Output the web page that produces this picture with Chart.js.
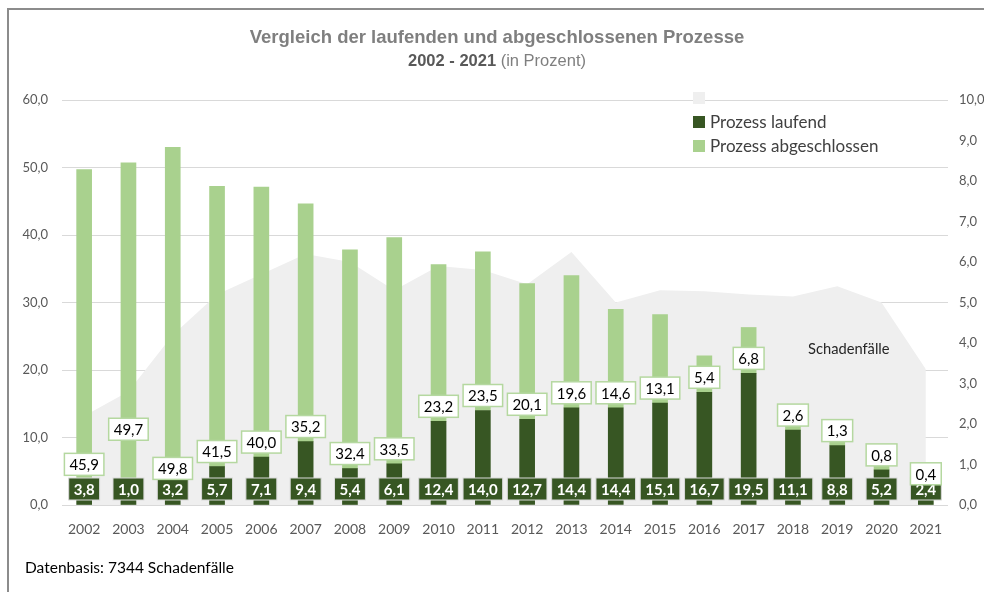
<!DOCTYPE html>
<html>
<head>
<meta charset="utf-8">
<script src="https://cdn.jsdelivr.net/npm/chart.js@4/dist/chart.umd.min.js"></script>
<style>
  html, body { margin: 0; padding: 0; background: #fff; }
  #wrap { position: relative; width: 984px; height: 592px; overflow: hidden; font-family: Lato, sans-serif; }
  #frame { position: absolute; left: 7px; top: 8px; width: 990px; height: 600px; border-top: 2px solid #8c8c8c; border-left: 2px solid #8c8c8c; }
  canvas { position: absolute; left: 0; top: 0; }
  .t { position: absolute; white-space: nowrap; }
  #title { left: 0; width: 994px; top: 26px; text-align: center; font: bold 18.5px "Liberation Sans", sans-serif; color: #7f7f7f; }
  #sub { left: 0; width: 994px; top: 51px; text-align: center; font: 16.5px "Liberation Sans", sans-serif; color: #7f7f7f; }
  #sub b { color: #595959; }
  .sw { position: absolute; width: 12px; height: 12px; }
  .lg { position: absolute; font-size: 17px; color: #404040; }
  #note { left: 25px; top: 558px; font-size: 15.5px; color: #000; }
  #sch { left: 808px; top: 339px; font-size: 14.7px; color: #262626; }
</style>
</head>
<body>
<div id="wrap">
  <canvas id="c" width="984" height="592"></canvas>
  <div id="frame"></div>
  <div class="t" id="title">Vergleich der laufenden und abgeschlossenen Prozesse</div>
  <div class="t" id="sub"><b>2002 - 2021</b> (in Prozent)</div>
  <div class="sw" style="left:693px;top:92px;background:#efefef"></div>
  <div class="sw" style="left:693px;top:116px;background:#375623"></div>
  <div class="t lg" style="left:710px;top:111px">Prozess laufend</div>
  <div class="sw" style="left:693px;top:140px;background:#a9d18e"></div>
  <div class="t lg" style="left:710px;top:135px">Prozess abgeschlossen</div>
  <div class="t" id="sch">Schadenfälle</div>
  <div class="t" id="note">Datenbasis: 7344 Schadenfälle</div>
</div>
<script>
const years = ['2002','2003','2004','2005','2006','2007','2008','2009','2010','2011',
               '2012','2013','2014','2015','2016','2017','2018','2019','2020','2021'];
const laufend = [3.8, 1.0, 3.2, 5.7, 7.1, 9.4, 5.4, 6.1, 12.4, 14.0,
                 12.7, 14.4, 14.4, 15.1, 16.7, 19.5, 11.1, 8.8, 5.2, 2.4];
const abgeschlossen = [45.9, 49.7, 49.8, 41.5, 40.0, 35.2, 32.4, 33.5, 23.2, 23.5,
                       20.1, 19.6, 14.6, 13.1, 5.4, 6.8, 2.6, 1.3, 0.8, 0.4];
// Schadenfälle, right axis (0-10)
const schadenfaelle = [2.2, 2.8, 4.2, 5.2, 5.7, 6.2, 6.0, 5.3, 5.9, 5.8,
                       5.45, 6.25, 5.0, 5.3, 5.28, 5.2, 5.15, 5.4, 5.0, 3.35];

const fmt = v => v.toFixed(1).replace('.', ',');
// label of 2003 was moved up by hand in the original
const liftedLabels = { '2003': 54 };

const drawBox = (ctx, t, x, cy, fill, stroke, lw, color) => {
  const w = ctx.measureText(t).width + 10;
  ctx.fillStyle = fill;
  ctx.strokeStyle = stroke;
  ctx.lineWidth = lw;
  ctx.fillRect(x - w / 2, cy - 11, w, 22);
  ctx.strokeRect(x - w / 2, cy - 11, w, 22);
  ctx.fillStyle = color;
  ctx.fillText(t, x, cy + 1);
};

const labelPlugin = {
  id: 'boxLabels',
  afterDatasetsDraw(chart) {
    const ctx = chart.ctx;
    const dark = chart.getDatasetMeta(1).data;
    const base = chart.scales.y.getPixelForValue(0);
    ctx.save();
    ctx.textAlign = 'center';
    ctx.textBaseline = 'middle';
    // dark labels: inside base
    ctx.font = 'bold 15px Lato';
    years.forEach((yr, i) => drawBox(ctx, fmt(laufend[i]), dark[i].x, base - 16, '#375623', '#d9d9d9', 1, '#fff'));
    // light labels: just above the dark segment
    ctx.font = '15px Lato';
    years.forEach((yr, i) => drawBox(ctx, fmt(abgeschlossen[i]), dark[i].x,
      dark[i].y - 15 - (liftedLabels[yr] || 0), '#fff', '#b5d8a0', 1.5, '#000'));
    ctx.restore();
  }
};

new Chart(document.getElementById('c'), {
  data: {
    labels: years,
    datasets: [
      { type: 'line', label: 'Schadenfälle', data: schadenfaelle, yAxisID: 'y1', order: 3,
        fill: 'origin', backgroundColor: '#efefef', borderWidth: 0, pointRadius: 0, tension: 0 },
      { type: 'bar', label: 'Prozess laufend', data: laufend, yAxisID: 'y', order: 1,
        backgroundColor: '#375623', barThickness: 15, stack: 's' },
      { type: 'bar', label: 'Prozess abgeschlossen', data: abgeschlossen, yAxisID: 'y', order: 2,
        backgroundColor: '#a9d18e', barThickness: 15, stack: 's' }
    ]
  },
  options: {
    responsive: false,
    animation: false,
    layout: { padding: { top: 100, bottom: 57, left: 0, right: 0 } },
    plugins: { legend: { display: false }, tooltip: { enabled: false } },
    scales: {
      x: {
        stacked: true,
        grid: { display: false },
        border: { display: false },
        ticks: { color: '#595959', font: { family: 'Lato', size: 14 }, padding: 8, maxRotation: 0 },
        afterFit: s => { s.height = 30; }
      },
      y: {
        stacked: true, min: 0, max: 60,
        grid: { color: '#d9d9d9', drawTicks: false },
        border: { display: false },
        ticks: { stepSize: 10, color: '#595959', font: { family: 'Lato', size: 13 }, padding: 14, callback: v => fmt(v) },
        afterFit: s => { s.width = 62; }
      },
      y1: {
        position: 'right', min: 0, max: 10,
        grid: { display: false },
        border: { display: false },
        ticks: { stepSize: 1, color: '#595959', font: { family: 'Lato', size: 13 }, padding: 3, callback: v => fmt(v) },
        afterFit: s => { s.width = 36; }
      }
    }
  },
  plugins: [labelPlugin]
});
</script>
</body>
</html>
